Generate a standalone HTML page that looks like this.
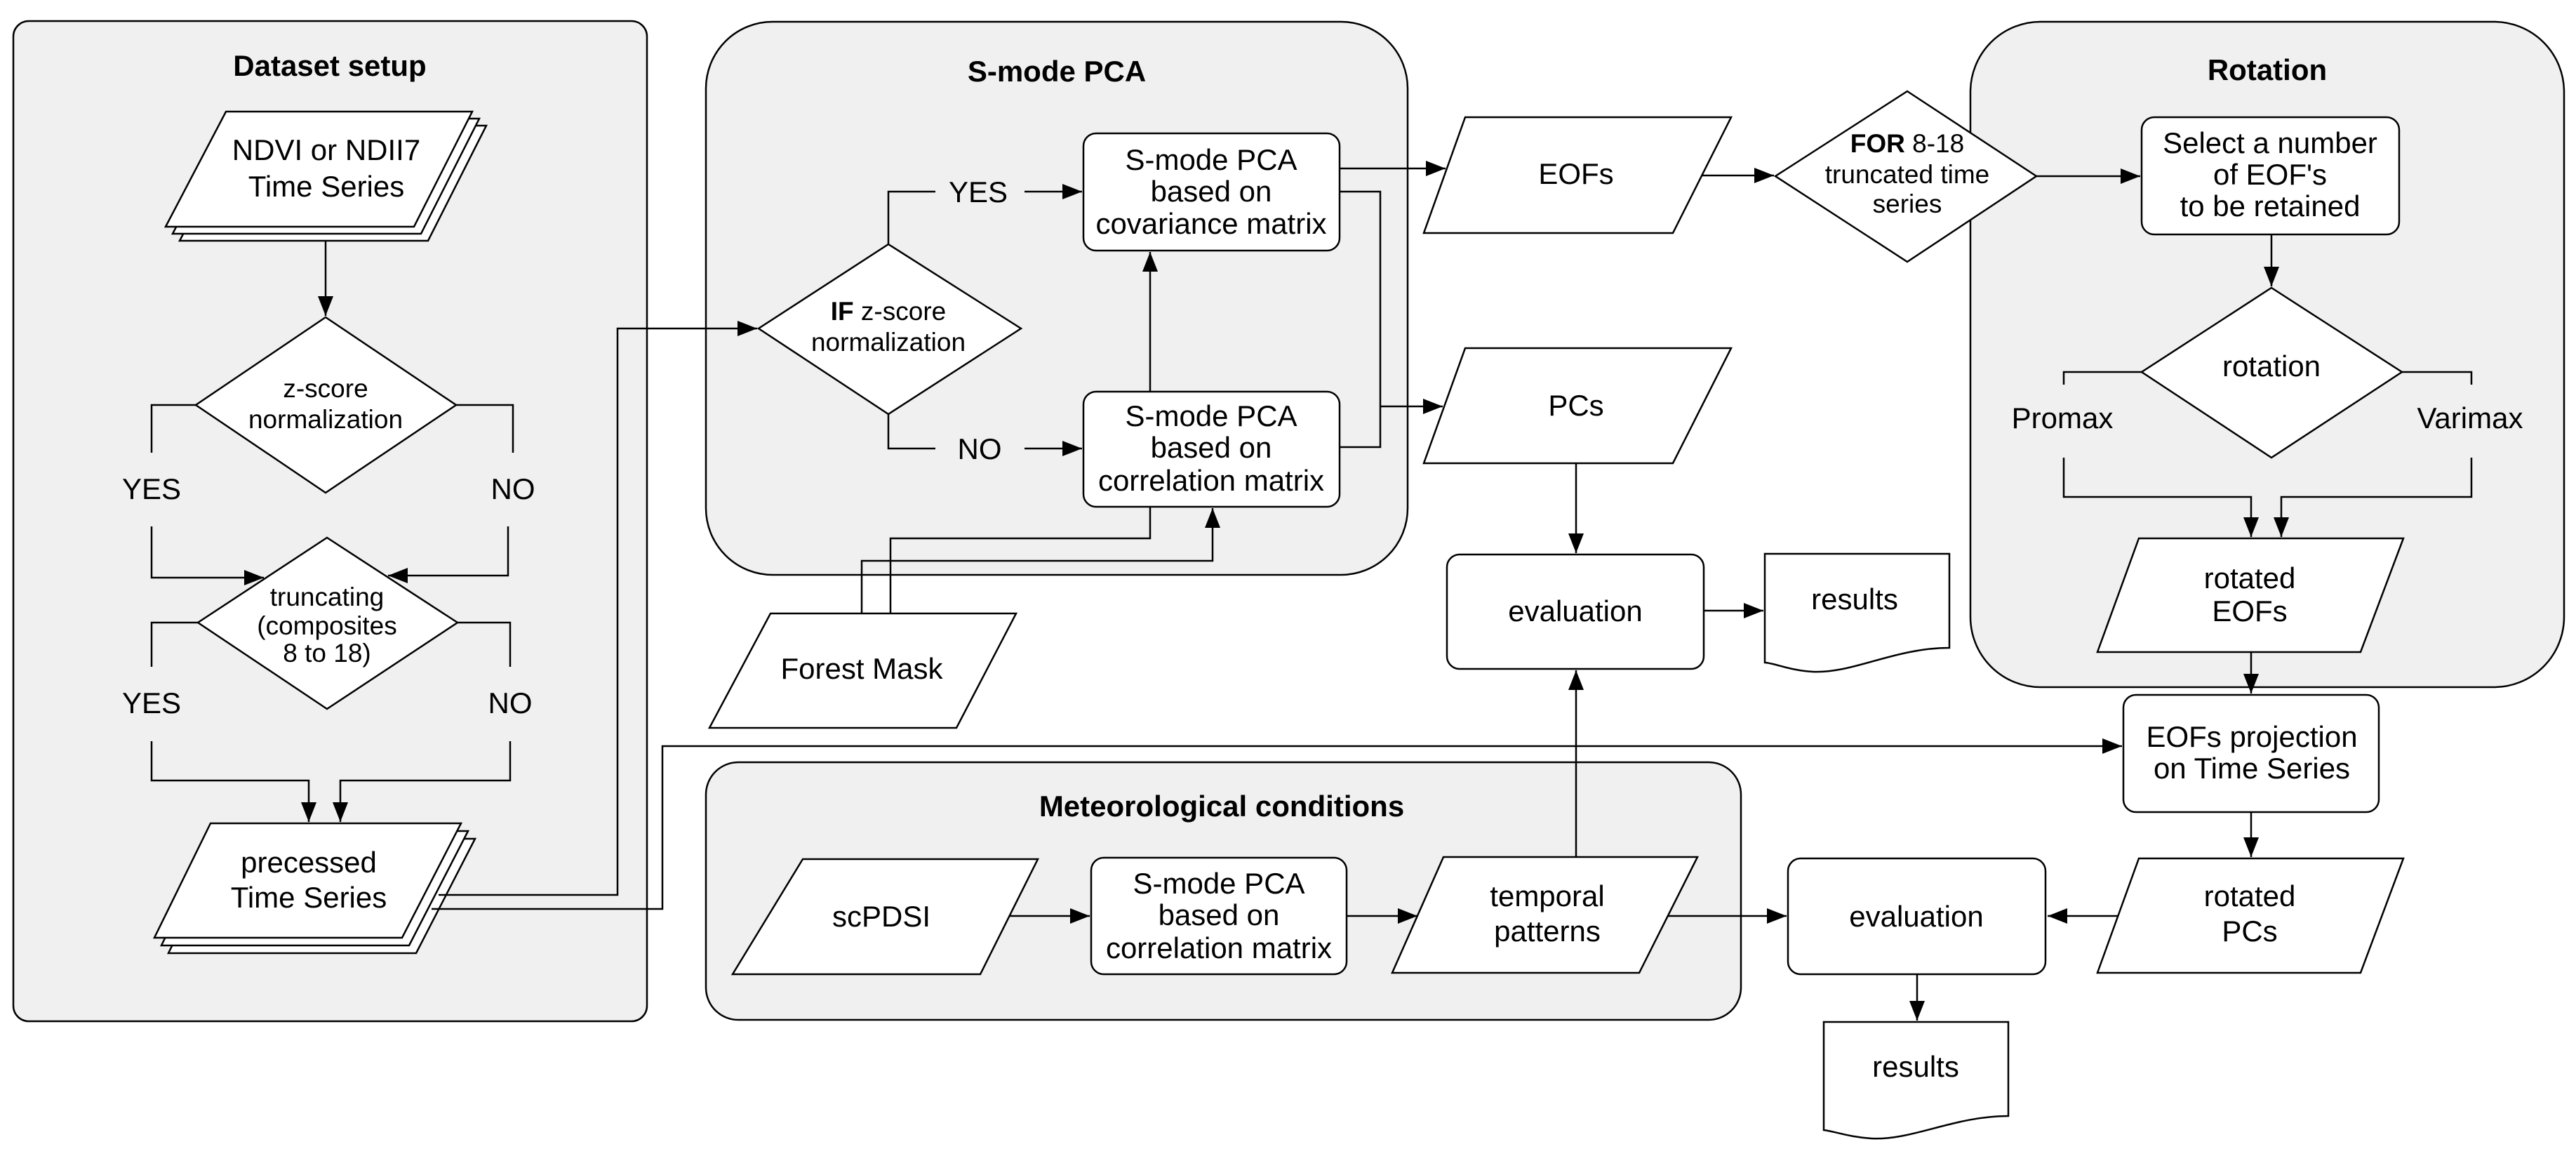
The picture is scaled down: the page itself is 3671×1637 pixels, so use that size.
<!DOCTYPE html>
<html><head><meta charset="utf-8">
<style>
html,body{margin:0;padding:0;background:#fff;}
svg{display:block;}
text{font-family:"Liberation Sans",Arial,sans-serif;fill:#000;text-anchor:middle;}
.n{font-size:42px;}
.d{font-size:37px;}
.t{font-size:42px;font-weight:bold;}
.c{fill:#f0f0f0;stroke:#000;stroke-width:2.5;}
.s{fill:#fff;stroke:#000;stroke-width:2.5;}
.l{fill:none;stroke:#000;stroke-width:2.5;}
.a{fill:none;stroke:#000;stroke-width:2.5;marker-end:url(#ar);}
</style></head><body>
<svg width="3671" height="1637" viewBox="0 0 3671 1637" xmlns="http://www.w3.org/2000/svg">
<defs>
<marker id="ar" markerUnits="userSpaceOnUse" markerWidth="30" markerHeight="24" refX="28" refY="11" orient="auto">
<path d="M0,0 L28,11 L0,22 z" fill="#000"/>
</marker>
</defs>
<rect width="3671" height="1637" fill="#fff"/>

<!-- containers -->
<rect class="c" x="19" y="30" width="903" height="1425" rx="22"/>
<rect class="c" x="1006" y="31" width="1000" height="788" rx="95"/>
<rect class="c" x="1006" y="1086" width="1475" height="367" rx="46"/>
<rect class="c" x="2808" y="31" width="846" height="948" rx="100"/>

<text class="t" x="470" y="108">Dataset setup</text>
<text class="t" x="1506" y="116">S-mode PCA</text>
<text class="t" x="1741" y="1163">Meteorological conditions</text>
<text class="t" x="3231" y="114">Rotation</text>

<!-- NDVI stack -->
<polygon class="s" points="342,179 693,179 610,343 256,343"/>
<polygon class="s" points="332,169 683,169 600,333 246,333"/>
<polygon class="s" points="322,159 673,159 590,323 236,323"/>
<text class="n" x="465" y="228">NDVI or NDII7</text>
<text class="n" x="465" y="280">Time Series</text>
<path class="a" d="M464,344 V450"/>

<!-- diamond 1 -->
<polygon class="s" points="464,452 650,577 464,702 279,577"/>
<text class="d" x="464" y="566">z-score</text>
<text class="d" x="464" y="610">normalization</text>
<path class="l" d="M279,577 H216 V645"/>
<text class="n" x="216" y="711">YES</text>
<path class="a" d="M216,750 V823 H376"/>
<path class="l" d="M650,577 H731 V645"/>
<text class="n" x="731" y="711">NO</text>
<path class="a" d="M724,750 V820 H553"/>

<!-- diamond 2 -->
<polygon class="s" points="466,766 652,887 466,1010 282,887"/>
<text class="d" x="466" y="863">truncating</text>
<text class="d" x="466" y="904">(composites</text>
<text class="d" x="466" y="943">8 to 18)</text>
<path class="l" d="M282,887 H216 V950"/>
<text class="n" x="216" y="1016">YES</text>
<path class="a" d="M216,1056 V1112 H440 V1171"/>
<path class="l" d="M652,887 H727 V950"/>
<text class="n" x="727" y="1016">NO</text>
<path class="a" d="M727,1056 V1112 H485 V1171"/>

<!-- processed stack -->
<polygon class="s" points="320,1195 677,1195 593,1358 240,1358"/>
<polygon class="s" points="310,1184 667,1184 583,1347 230,1347"/>
<polygon class="s" points="300,1173 657,1173 573,1336 220,1336"/>
<text class="n" x="440" y="1243">precessed</text>
<text class="n" x="440" y="1293">Time Series</text>

<path class="a" d="M625,1275 H880 V468 H1079"/>
<path class="a" d="M615,1295 H944 V1063 H3024"/>

<!-- S-mode PCA -->
<polygon class="s" points="1266,348 1455,468 1266,590 1081,468"/>
<text class="d" x="1266" y="456"><tspan font-weight="bold">IF</tspan> z-score</text>
<text class="d" x="1266" y="500">normalization</text>
<path class="l" d="M1266,348 V273 H1333"/>
<text class="n" x="1394" y="288">YES</text>
<path class="a" d="M1460,273 H1542"/>
<path class="l" d="M1266,590 V639 H1333"/>
<text class="n" x="1396" y="654">NO</text>
<path class="a" d="M1460,639 H1542"/>

<rect class="s" x="1544" y="190" width="365" height="167" rx="18"/>
<text class="n" x="1726" y="242">S-mode PCA</text>
<text class="n" x="1726" y="287">based on</text>
<text class="n" x="1726" y="333">covariance matrix</text>
<rect class="s" x="1544" y="558" width="365" height="164" rx="18"/>
<text class="n" x="1726" y="607">S-mode PCA</text>
<text class="n" x="1726" y="652">based on</text>
<text class="n" x="1726" y="699">correlation matrix</text>
<path class="a" d="M1639,558 V359"/>
<path class="a" d="M1909,240 H2060"/>
<path class="l" d="M1909,273 H1967 V637 H1909"/>
<path class="a" d="M1967,579 H2056"/>

<polygon class="s" points="2088,167 2467,167 2384,332 2029,332"/>
<text class="n" x="2246" y="262">EOFs</text>
<polygon class="s" points="2088,496 2467,496 2384,660 2029,660"/>
<text class="n" x="2246" y="592">PCs</text>
<path class="a" d="M2246,660 V788"/>

<rect class="s" x="2062" y="790" width="366" height="163" rx="18"/>
<text class="n" x="2245" y="885">evaluation</text>
<path class="a" d="M2428,870 H2513"/>
<path class="s" d="M2515,789 H2778 V923 C2700,923 2640,960 2583,957 C2550,955 2530,945 2515,944 Z"/>
<text class="n" x="2643" y="868">results</text>

<!-- forest mask -->
<polygon class="s" points="1098,874 1448,874 1363,1037 1011,1037"/>
<text class="n" x="1228" y="967">Forest Mask</text>
<path class="a" d="M1228,874 V799 H1728 V724"/>
<path class="l" d="M1269,874 V767 H1639 V722"/>

<!-- FOR diamond -->
<path class="a" d="M2425,250 H2528"/>
<polygon class="s" points="2718,130 2902,251 2718,373 2530,251"/>
<text class="d" x="2718" y="217"><tspan font-weight="bold">FOR</tspan> 8-18</text>
<text class="d" x="2718" y="261">truncated time</text>
<text class="d" x="2718" y="303">series</text>
<path class="a" d="M2902,251 H3050"/>

<!-- rotation -->
<rect class="s" x="3052" y="167" width="367" height="167" rx="18"/>
<text class="n" x="3235" y="218">Select a number</text>
<text class="n" x="3235" y="263">of EOF's</text>
<text class="n" x="3235" y="308">to be retained</text>
<path class="a" d="M3237,334 V408"/>
<polygon class="s" points="3237,410 3423,530 3237,652 3052,530"/>
<text class="n" x="3237" y="536">rotation</text>
<path class="l" d="M3052,530 H2941 V548"/>
<text class="n" x="2939" y="610">Promax</text>
<path class="a" d="M2941,652 V708 H3208 V765"/>
<path class="l" d="M3423,530 H3522 V548"/>
<text class="n" x="3520" y="610">Varimax</text>
<path class="a" d="M3522,652 V708 H3251 V765"/>

<polygon class="s" points="3048,767 3425,767 3364,929 2989,929"/>
<text class="n" x="3206" y="838">rotated</text>
<text class="n" x="3206" y="885">EOFs</text>
<path class="a" d="M3208,929 V988"/>

<rect class="s" x="3026" y="990" width="364" height="167" rx="18"/>
<text class="n" x="3209" y="1064">EOFs projection</text>
<text class="n" x="3209" y="1109">on Time Series</text>
<path class="a" d="M3208,1157 V1221"/>

<polygon class="s" points="3048,1223 3425,1223 3364,1386 2989,1386"/>
<text class="n" x="3206" y="1291">rotated</text>
<text class="n" x="3206" y="1341">PCs</text>
<path class="a" d="M3018,1305 H2918"/>

<rect class="s" x="2548" y="1223" width="367" height="165" rx="18"/>
<text class="n" x="2731" y="1320">evaluation</text>
<path class="a" d="M2376,1305 H2546"/>
<path class="a" d="M2732,1388 V1454"/>
<path class="s" d="M2599,1456 H2862 V1590 C2785,1590 2725,1625 2667,1622 C2635,1620 2615,1612 2599,1610 Z"/>
<text class="n" x="2730" y="1534">results</text>

<!-- meteorological -->
<polygon class="s" points="1144,1224 1479,1224 1397,1388 1044,1388"/>
<text class="n" x="1256" y="1320">scPDSI</text>
<path class="a" d="M1439,1305 H1553"/>
<rect class="s" x="1555" y="1222" width="364" height="166" rx="18"/>
<text class="n" x="1737" y="1273">S-mode PCA</text>
<text class="n" x="1737" y="1318">based on</text>
<text class="n" x="1737" y="1365">correlation matrix</text>
<path class="a" d="M1919,1305 H2020"/>
<polygon class="s" points="2057,1221 2419,1221 2336,1386 1984,1386"/>
<text class="n" x="2205" y="1291">temporal</text>
<text class="n" x="2205" y="1341">patterns</text>
<path class="a" d="M2246,1221 V955"/>
</svg>
</body></html>
